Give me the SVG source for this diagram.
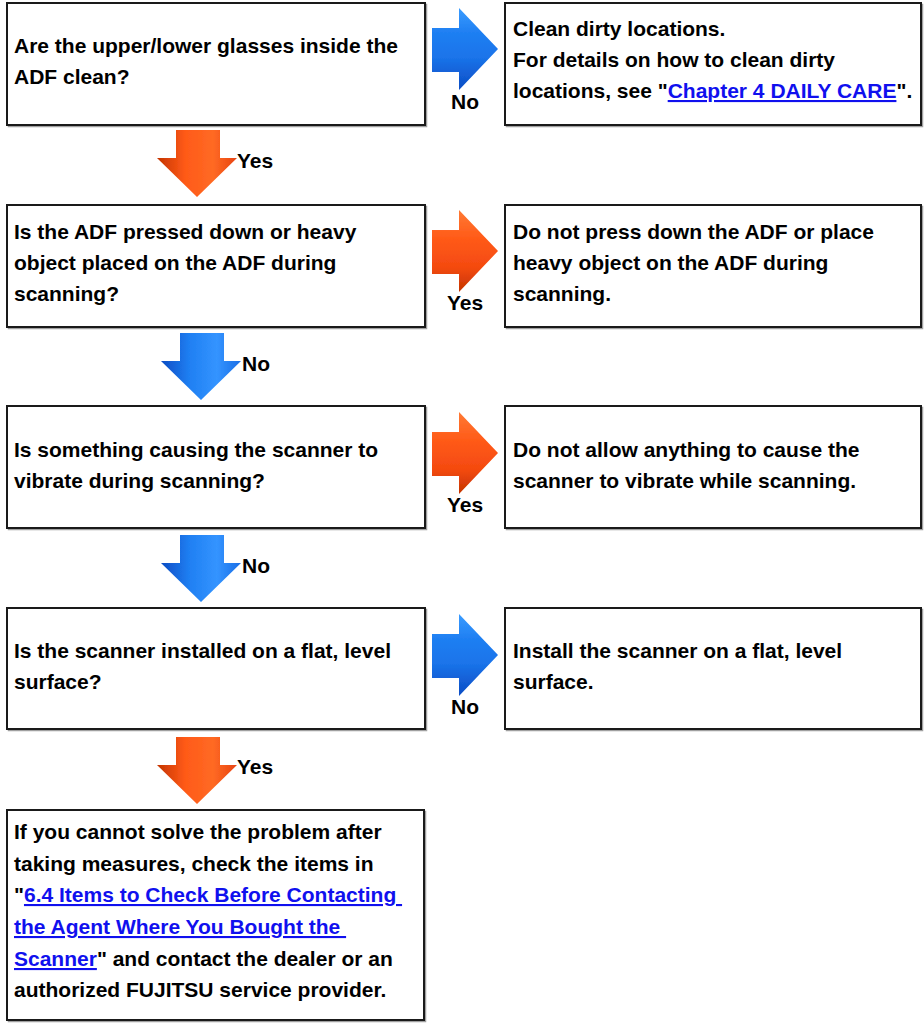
<svg xmlns="http://www.w3.org/2000/svg" width="924" height="1023" viewBox="0 0 924 1023">
<style>
.box{fill:#fff;stroke:#1a1a1a;stroke-width:2}
.shadow{fill:none;stroke:#a0a0a0;stroke-width:1.5}
.t{font-family:"Liberation Sans",Arial,sans-serif;font-weight:bold;font-size:21px;fill:#000}
.lnk{fill:#1010ee;text-decoration:underline}
</style>
<defs>
<linearGradient id="gBlueR" x1="0" y1="0" x2="0" y2="1">
<stop offset="0" stop-color="#3a9cff"/>
<stop offset="0.3" stop-color="#1f7ff2"/>
<stop offset="0.6" stop-color="#1a74ea"/>
<stop offset="1" stop-color="#0c4cc4"/>
</linearGradient>
<linearGradient id="gOrgR" x1="0" y1="0" x2="0" y2="1">
<stop offset="0" stop-color="#ff7a34"/>
<stop offset="0.35" stop-color="#ff5a18"/>
<stop offset="0.7" stop-color="#f44a10"/>
<stop offset="1" stop-color="#c43400"/>
</linearGradient>
<linearGradient id="gBlueD" x1="0" y1="0" x2="1" y2="0">
<stop offset="0" stop-color="#0c4cc4"/>
<stop offset="0.35" stop-color="#1f7ff2"/>
<stop offset="0.7" stop-color="#3494ff"/>
<stop offset="1" stop-color="#1a6ee6"/>
</linearGradient>
<linearGradient id="gOrgD" x1="0" y1="0" x2="1" y2="0">
<stop offset="0" stop-color="#c43400"/>
<stop offset="0.35" stop-color="#ff5a18"/>
<stop offset="0.7" stop-color="#ff6a24"/>
<stop offset="1" stop-color="#e84410"/>
</linearGradient>
<filter id="soft" x="-10%" y="-10%" width="120%" height="120%">
<feGaussianBlur stdDeviation="0.7"/>
</filter>
<path id="arrR" d="M0,20 H27 V0 L66,41 L27,82 V64 H0 Z"/>
<path id="arrD" d="M19,0 H63 V28 H80 L40,67 L0,28 H19 Z"/>
</defs>

<g id="connectors">
<g id="c1">
<use href="#arrR" x="432" y="8" fill="url(#gBlueR)" filter="url(#soft)"/>
<text class="t" x="465" y="109" text-anchor="middle">No</text>
</g>
<g id="c2">
<use href="#arrD" x="157" y="130" fill="url(#gOrgD)" filter="url(#soft)"/>
<text class="t" x="237" y="168">Yes</text>
</g>
<g id="c3">
<use href="#arrR" x="432" y="210" fill="url(#gOrgR)" filter="url(#soft)"/>
<text class="t" x="465" y="310" text-anchor="middle">Yes</text>
</g>
<g id="c4">
<use href="#arrD" x="161" y="333" fill="url(#gBlueD)" filter="url(#soft)"/>
<text class="t" x="242" y="371">No</text>
</g>
<g id="c5">
<use href="#arrR" x="432" y="412" fill="url(#gOrgR)" filter="url(#soft)"/>
<text class="t" x="465" y="512" text-anchor="middle">Yes</text>
</g>
<g id="c6">
<use href="#arrD" x="161" y="535" fill="url(#gBlueD)" filter="url(#soft)"/>
<text class="t" x="242" y="573">No</text>
</g>
<g id="c7">
<use href="#arrR" x="432" y="614" fill="url(#gBlueR)" filter="url(#soft)"/>
<text class="t" x="465" y="714" text-anchor="middle">No</text>
</g>
<g id="c8">
<use href="#arrD" x="157" y="737" fill="url(#gOrgD)" filter="url(#soft)"/>
<text class="t" x="237" y="774">Yes</text>
</g>
</g>

<g id="q1">
<rect class="shadow" x="8.5" y="4.5" width="418" height="122"/>
<rect class="box" x="7" y="3" width="418" height="122"/>
<text class="t" x="14" y="53">Are the upper/lower glasses inside the</text>
<text class="t" x="14" y="84">ADF clean?</text>
</g>
<g id="a1">
<rect class="shadow" x="506.5" y="4.5" width="416" height="122"/>
<rect class="box" x="505" y="3" width="416" height="122"/>
<text class="t" x="513" y="36">Clean dirty locations.</text>
<text class="t" x="513" y="67">For details on how to clean dirty</text>
<text class="t" x="513" y="98">locations, see "<tspan class="lnk">Chapter 4 DAILY CARE</tspan>".</text>
</g>

<g id="q2">
<rect class="shadow" x="8.5" y="206.5" width="418" height="122"/>
<rect class="box" x="7" y="205" width="418" height="122"/>
<text class="t" x="14" y="239">Is the ADF pressed down or heavy</text>
<text class="t" x="14" y="270">object placed on the ADF during</text>
<text class="t" x="14" y="301">scanning?</text>
</g>
<g id="a2">
<rect class="shadow" x="506.5" y="206.5" width="416" height="122"/>
<rect class="box" x="505" y="205" width="416" height="122"/>
<text class="t" x="513" y="239">Do not press down the ADF or place</text>
<text class="t" x="513" y="270">heavy object on the ADF during</text>
<text class="t" x="513" y="301">scanning.</text>
</g>

<g id="q3">
<rect class="shadow" x="8.5" y="407.5" width="418" height="122"/>
<rect class="box" x="7" y="406" width="418" height="122"/>
<text class="t" x="14" y="457">Is something causing the scanner to</text>
<text class="t" x="14" y="488">vibrate during scanning?</text>
</g>
<g id="a3">
<rect class="shadow" x="506.5" y="407.5" width="416" height="122"/>
<rect class="box" x="505" y="406" width="416" height="122"/>
<text class="t" x="513" y="457">Do not allow anything to cause the</text>
<text class="t" x="513" y="488">scanner to vibrate while scanning.</text>
</g>

<g id="q4">
<rect class="shadow" x="8.5" y="609.5" width="418" height="121"/>
<rect class="box" x="7" y="608" width="418" height="121"/>
<text class="t" x="14" y="658">Is the scanner installed on a flat, level</text>
<text class="t" x="14" y="689">surface?</text>
</g>
<g id="a4">
<rect class="shadow" x="506.5" y="609.5" width="416" height="121"/>
<rect class="box" x="505" y="608" width="416" height="121"/>
<text class="t" x="513" y="658">Install the scanner on a flat, level</text>
<text class="t" x="513" y="689">surface.</text>
</g>

<g id="final">
<rect class="shadow" x="8.5" y="811.5" width="417" height="210"/>
<rect class="box" x="7" y="810" width="417" height="210"/>
<text class="t" x="14" y="839">If you cannot solve the problem after</text>
<text class="t" x="14" y="871">taking measures, check the items in</text>
<text class="t" x="14" y="902" xml:space="preserve">"<tspan class="lnk">6.4 Items to Check Before Contacting </tspan></text>
<text class="t" x="14" y="934" xml:space="preserve"><tspan class="lnk">the Agent Where You Bought the </tspan></text>
<text class="t" x="14" y="966"><tspan class="lnk">Scanner</tspan>" and contact the dealer or an</text>
<text class="t" x="14" y="997">authorized FUJITSU service provider.</text>
</g>
</svg>
